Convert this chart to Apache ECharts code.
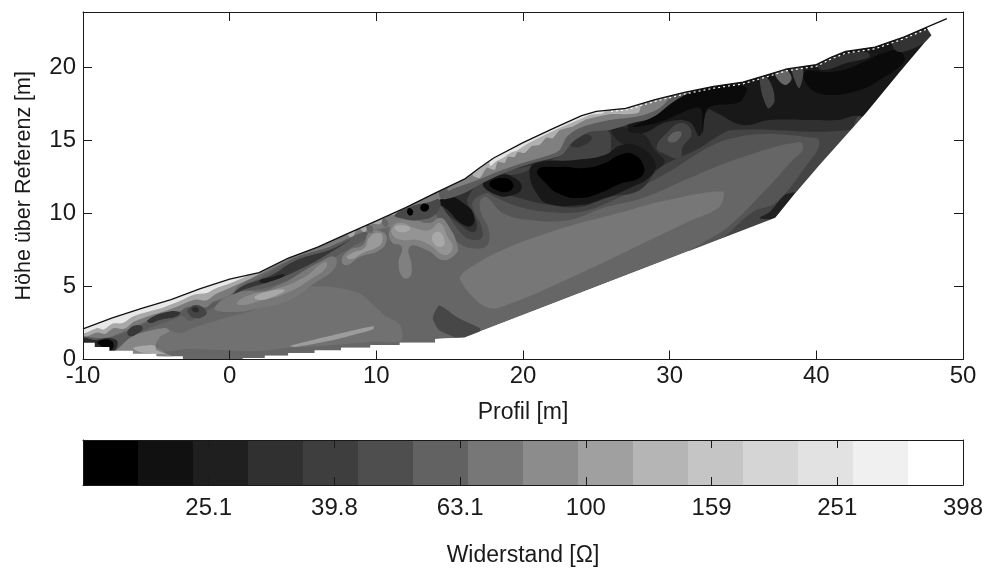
<!DOCTYPE html>
<html><head><meta charset="utf-8"><style>html,body{margin:0;padding:0;background:#fff}#c{width:989px;height:568px}</style>
<script src="https://cdn.jsdelivr.net/npm/echarts@6/dist/echarts.min.js"></script></head><body><div id="c"></div>
<script>
// --- values (x = Profil [m], y = Höhe [m]) ---
const surface=[[-10,2.1],[-8,2.85],[-6,3.5],[-4,4.1],[-2,4.85],[0,5.5],[2,5.95],[4,6.95],[6,7.7],[8,8.6],[10,9.5],[12,10.4],[14,11.4],[16,12.35],[17,13.1],[18,13.8],[20,14.85],[22,15.8],[24,16.7],[25,17],[27,17.2],[29,17.8],[31,18.3],[33,18.7],[35,19],[37,19.6],[38,19.9],[40,20.2],[41,20.7],[42,21.1],[44,21.4],[46,22.1],[47.5,22.75],[48.9,23.35]];
const whiteDash=[[26,17],[27,17.08],[29,17.68],[31,18.18],[33,18.58],[35,18.88],[37,19.48],[38,19.78],[40,20.08],[41,20.58],[42,20.98],[44,21.28],[46,21.98],[47.5,22.62]];
const bottomEdge=[[-10,1.15],[-9.2,1.15],[-9.2,.85],[-8.2,.85],[-8.2,.6],[-6.6,.6],[-6.6,.4],[-5,.4],[-5,.2],[-3.2,.2],[-3.2,0],[.9,0],[.9,.1],[2.4,.1],[2.4,.25],[4,.25],[4,.45],[5.8,.45],[5.8,.62],[7.6,.62],[7.6,.8],[9.6,.8],[9.6,1],[11.6,1],[11.6,1.15],[14,1.15],[14,1.4],[16,1.5],[37.2,9.7],[38.4,11.2],[40.2,13.3],[41.8,15.1],[43.4,16.9],[45.7,19.7],[47.3,21.6],[47.85,22.2],[47.5,22.75]];
const plateauRight=[[15.7,5.5],[16.1,6.1],[18.6,7.5],[22.7,9],[26.8,10.1],[29.3,10.8],[33.6,11.5],[33.4,10.45],[31.4,9.5],[28.7,8.2],[23.7,5.8],[18.2,3.5],[17.05,3.85]];
const plateauLeft=[[-4.9,1.47],[-4.2,2],[-3.4,1.8],[-2.4,2.2],[-.3,2.85],[1.7,3.4],[4.1,4.6],[5.3,5],[7.5,4.9],[8.9,4.5],[9.9,3.65],[10.6,3],[11.6,2.4],[11.7,1.3],[9.6,1.2],[6,.9],[4.1,.8],[1.9,.58],[-.7,.65],[-2.9,.72],[-4.75,.58]];
const paleStreak=[[4.1,.92],[6.2,1.47],[9.8,2.3],[9.8,2.08],[6.9,1.3],[4.5,.85]];
const lowerPatch=[[14.3,3.7],[13.85,2.85],[14.3,2],[15.9,1.4],[17.05,1.9],[17.05,2.15],[15.5,2.9]];
const cornerLight=[[-8.6,.65],[-7.1,1.47],[-5.8,1.88],[-4.4,2.16],[-4.1,1.95],[-4.75,1.54],[-5,.86],[-3.7,.1],[-5.4,.3],[-7.5,.5]];
const cornerLightIn=[[-6.6,.8],[-5.4,1],[-5.1,.93],[-5,.65],[-4.4,.38],[-6.1,.5]];
const contour1=[[13.77,11.6],[14.32,9.42],[15.55,8.05],[16.36,7.64],[17.52,7.77],[17.66,8.87],[17.11,10.1],[17.11,10.93],[17.52,11.13],[18.61,10.04],[20.45,9.56],[23.18,9.56],[25.43,10.38],[28.16,11.06],[31.36,12.43],[34.77,13.8],[38.86,14.9],[39.07,14.35],[38.39,13.67],[36.34,11.4],[33.89,9],[32.25,7.98],[31.36,7.36],[37.5,6.8],[49.8,17.8],[49.8,23.67],[13.77,23.67]];
const contour2=[[13.77,11.6],[14.8,10.04],[15.89,8.53],[16.57,8.19],[17.18,8.32],[17.18,9.08],[16.7,10.1],[16.57,10.79],[17.52,11.4],[18.07,11.13],[19.77,10.45],[21.82,10.1],[23.86,10.1],[25.9,10.79],[29.32,12.5],[34.3,15.17],[40.02,15.17],[40.16,14.56],[39.34,13.32],[37.3,10.79],[35.66,10.1],[33.89,8.53],[33.07,7.84],[37.5,6.8],[49.8,16.4],[49.8,23.67],[13.77,23.67]];
const contour3=[[14.52,10.72],[16.02,9],[16.7,8.73],[16.84,9.35],[16.36,10.38],[16.23,11.06],[17.18,12.09],[18.2,11.6],[19.77,11.06],[21.82,10.58],[23.86,10.45],[25.9,11.13],[27.95,11.6],[29.32,13.12],[32.05,14.49],[33.2,15.24],[34.3,15.72],[42.27,15.72],[42.95,16.68],[45.68,15.72],[49.8,20.5],[49.8,23.67],[14.52,23.67]];
const massInner=[[13.9,11],[14.8,10.3],[15.82,9.3],[16.55,9.2],[16.6,10.04],[15.95,10.7],[15.2,11.2],[14.66,11.5]];
const ringMain=[[20.45,12.84],[20.93,13.46],[23.52,13.67],[25.57,14.01],[26.73,14.69],[27.95,14.56],[28.98,13.53],[28.77,12.64],[27.27,11.75],[25.23,10.93],[23.86,10.58],[21.82,10.65],[21,11.27]];
const coreMain=[[21,12.98],[22.5,13.19],[24.2,13.12],[25.57,13.46],[26.59,14.01],[27.48,14.08],[28.23,13.25],[28.02,12.5],[26.59,12.02],[25.23,11.4],[23.86,11.06],[22.5,11.34],[21.61,12.02]];
const ringSpot=[[17.25,12.09],[18.41,12.64],[19.43,12.43],[19.91,11.75],[19.3,11.27],[18.2,11.27]];
const coreSpot=[[17.73,12.09],[18.61,12.43],[19.3,12.09],[19.09,11.54],[18.2,11.6]];
const upperPlate=[[18.75,12.84],[20.66,13.32],[22.64,14.01],[23.39,14.9],[24.55,15.58],[25.77,15.72],[25.98,14.35],[25.57,13.87],[23.52,13.53],[20.93,13.32],[20.11,12.84],[19.09,12.64]];
const plateSpot=[[23.18,14.9],[23.86,15.38],[24.68,15.24],[24.2,14.69],[23.39,14.56]];
const darkStripe=[[26.05,15.72],[27.27,15.86],[28.3,15.38],[28.98,14.35],[29.66,13.53],[28.64,12.98],[27.95,14.35],[26.59,14.9]];
const blobUpper=[[29.11,14.56],[29.8,15.52],[30.82,16.2],[31.5,15.52],[30.89,14.56],[30.68,13.8],[29.52,14.14]];
const blobUpperIn=[[29.86,15.04],[30.34,15.58],[30.82,15.52],[30.34,14.9]];
const topDark=[[27.14,15.86],[28.16,15.52],[29.8,16.27],[31.36,16.27],[32.05,15.31],[32.59,17.09],[33.2,16.89],[34.98,16.06],[36.82,16.4],[39.55,16.4],[41.39,16.4],[42.95,16.68],[45.68,15.72],[49.8,17.8],[49.8,23.67],[27.95,23.67]];
const topBlackA=[[27.48,15.93],[29.32,16.27],[32.05,17.23],[32.25,15.52],[32.59,17.23],[34.77,17.64],[35.25,18.6],[34.09,18.8],[31.36,18.26],[30.14,17.57],[29.11,16.75]];
const topBlackB=[[39.2,19.69],[40.91,19.69],[42.27,19.97],[45.34,21.2],[46.02,20.5],[44.32,19.14],[42.95,18.46],[40.91,18.12],[39.55,18.6]];
const stripeA=[[36.14,19.28],[36.68,19.28],[37.16,17.77],[36.68,17.23]];
const stripeB=[[37.77,19.97],[38.32,19.28],[37.84,18.8],[37.16,19.62]];
const stripeC=[[38.39,19.97],[39.07,20.04],[38.86,18.6],[38.52,19.14]];
const topPatch1=[[40.02,20.31],[41.8,20.86],[43.43,21.06],[43.64,20.72],[42.07,20.31],[40.43,19.83]];
const topPatch2=[[45.2,21.68],[47.25,22.57],[48.07,22.23],[47.52,21.75],[45.68,21.06]];
const wedge=[[36.14,9.69],[37.16,9.69],[38.52,11.4],[37.84,11.27],[36.82,10.1]];
const midGrey1=[[14.32,11.13],[15.68,11.27],[17.25,12.09],[18.89,12.84],[20.66,13.46],[22.64,14.01],[23.39,14.9],[24.55,15.58],[25.91,15.72],[27.48,16.2],[29.11,16.61],[30.14,17.43],[31.36,18.12],[31.36,23.67],[13.77,23.67]];
const midGrey2=[[14.86,11.6],[15.34,11.74],[17.25,12.43],[18.2,12.84],[19.98,13.46],[21.82,14.01],[22.5,14.35],[22.98,15.24],[23.86,15.86],[25.91,16.4],[27.95,16.68],[29.32,17.23],[30,18.12],[30,23.67],[14.32,23.67]];
const midGrey3=[[16.57,12.64],[17.05,12.43],[17.52,13.12],[18.07,12.98],[18.27,13.53],[18.75,13.46],[18.95,13.87],[19.43,13.87],[19.64,14.21],[20.11,14.14],[20.59,14.6],[21.14,14.7],[21.61,15.2],[22.02,15.15],[22.5,15.7],[23.39,15.95],[24.34,16.45],[25.91,16.8],[27.95,17],[27.95,23.67],[16.36,23.67]];
const midGrey4=[[17.73,13.3],[18.2,13.6],[18.61,13.8],[19.23,14.2],[19.57,14.3],[20.25,14.75],[21.14,15.2],[22.16,15.7],[23.52,16.3],[24.55,16.75],[25.57,17],[25.57,23.67],[17.39,23.67]];
const leftGrey=[[-10,1.6],[-9.07,1.47],[-8.18,1.54],[-6.82,2.1],[-5.25,2.8],[-3.41,3.3],[-2.93,3.6],[-1.57,3.6],[-1.16,3.95],[0,4.4],[.68,5.1],[2.05,5.79],[4.57,7.02],[6.82,7.71],[8.32,8.4],[9.2,8.73],[10.57,9.01],[12.27,9.56],[14.32,10.93],[15.34,11.74],[15.34,23.67],[-10,23.67]];
const leftPale=[[-10,1.65],[-9,1.85],[-8.5,1.75],[-7.9,2.15],[-7.2,2.1],[-6.5,2.6],[-5.45,3],[-4.43,3.3],[-3.41,3.7],[-2.39,4.1],[-1.57,4.05],[-1,4.45],[0,4.9],[1.36,5.51],[2.73,6.27],[4.77,7.36],[6.82,8.19],[7.84,8.66],[8.32,8.32],[8.73,9.01],[9.2,8.73],[9.68,9.28],[10.23,9.28],[10.77,9.83],[11.59,9.97],[12.27,10.72],[13.64,11.26],[15,12.09],[16.57,12.64],[16.57,23.67],[-10,23.67]];
const leftWhite=[[-10,1.9],[-9,2.15],[-8.6,2.05],[-8,2.45],[-7.3,2.5],[-6.6,2.95],[-5.45,3.3],[-4.43,3.6],[-3.41,4],[-2.39,4.45],[-1.57,4.55],[-1,4.85],[0,5.2],[1.36,5.8],[2.73,6.6],[4.77,7.7],[6.82,8.66],[7.84,9.07],[8.32,8.8],[8.73,9.42],[9.2,9.14],[9.68,9.75],[10.23,9.68],[10.77,10.17],[11.59,10.38],[12.27,11.06],[13.64,11.74],[15,12.5],[15,23.67],[-10,23.67]];
const bandOuter=[[-10,1.55],[-9.07,1.47],[-8.18,1.5],[-6.82,2],[-5.25,2.7],[-3.41,3.2],[-2.93,3.55],[-1.57,3.55],[-1.16,3.85],[0,4.3],[.68,4.9],[2.05,5.6],[4.57,7.02],[6.82,7.71],[8.32,8.4],[9.2,8.73],[9.55,8.46],[8.32,7.71],[6.82,6.82],[5.25,5.99],[2.73,4.97],[.89,4.62],[.14,4.08],[-.55,3.87],[-1.57,3.32],[-2.39,2.77],[-2.73,2.64],[-3.2,2.98],[-3.75,2.77],[-5.45,2.16],[-6.82,1.47],[-7.98,.51],[-8.86,.86],[-10,1.06]];
const cornerDark=[[-10,1.47],[-9.2,1.34],[-8.18,1.47],[-7.64,1.2],[-7.98,.51],[-8.86,.79],[-10,.99]];
const cornerCore=[[-9,1.2],[-8.18,1.34],[-7.91,.99],[-8.18,.58],[-8.66,.86]];
const seg2=[[-6.95,1.95],[-6.34,2.36],[-5.93,2.16],[-6.34,1.75],[-6.82,1.61]];
const seg3=[[-5.59,2.71],[-4.3,3.25],[-3.41,3.25],[-3.55,2.98],[-4.77,2.71],[-5.45,2.5]];
const spotOuter=[[-2.86,3.39],[-2.25,3.73],[-1.57,3.25],[-1.84,2.91],[-2.39,2.84],[-2.73,3.05]];
const spotInner=[[-2.59,3.46],[-2.25,3.6],[-2.11,3.32],[-2.39,3.25]];
const band3=[[.14,4.35],[.89,5.03],[2.73,5.72],[4.57,6.82],[6.82,7.5],[8.18,8.19],[6.82,7.3],[5.11,6.34],[3.07,5.45],[.89,4.76]];
const band3Core=[[2.05,5.45],[2.86,5.65],[3.61,5.86],[3.75,5.72],[2.86,5.38],[2.18,5.24]];
const patchHalo=[[-1.02,3.53],[.48,4.56],[2.73,4.83],[6.14,6.68],[7.16,7.02],[7.16,6.27],[5.8,5.24],[4.09,4.08],[2.05,3.53],[0,3.25]];
const patchMid=[[.48,3.87],[1.36,4.42],[2.93,4.76],[4.98,5.58],[6.48,6.68],[6.61,6.34],[5.66,5.58],[3.89,4.56],[2.25,4.08],[.89,3.73]];
const patchIn=[[1.7,4.28],[2.73,4.69],[3.75,4.76],[2.93,4.28],[2.05,4.08]];
const blobAOut=[[7.64,6.82],[8.18,7.5],[9.07,7.84],[9.55,8.73],[10.43,8.73],[10.7,8.19],[10.23,7.5],[8.86,7.02],[7.98,6.47]];
const blobAIn=[[7.98,7.02],[8.52,7.36],[9.2,7.64],[9.55,8.39],[10.23,8.66],[10.43,8.19],[10.09,7.71],[9.07,7.3],[8.32,6.88]];
const blobBOut=[[10.91,8.87],[11.39,9.42],[12.48,9.56],[13.64,9.35],[14.32,9.69],[14.8,9.35],[15.55,7.71],[15.34,7.16],[14.52,6.82],[13.43,7.5],[12.27,7.71],[12.41,6.34],[12.27,5.65],[11.8,5.65],[11.52,6.61],[11.73,7.71],[11.05,8.05]];
const blobBMid=[[11.11,9.08],[11.73,9.35],[12.61,9.01],[13.64,8.87],[14.32,9.35],[14.86,8.39],[15.2,7.64],[14.66,7.16],[13.64,7.84],[12.82,8.19],[11.73,8.19],[11.11,8.53]];
const blobBIn1=[[11.25,9.08],[12.14,9.15],[12.27,8.87],[11.59,8.73]];
const blobBIn2=[[13.84,8.53],[14.32,8.73],[14.66,7.98],[14.32,7.71],[13.91,7.98]];
const scallopHalo=[[11.25,9.9],[12.27,10.45],[13.64,10.79],[14.32,10.93],[14.11,10.04],[12.95,9.56],[11.59,9.69]];
const blackDotA=[[12.14,10.31],[12.41,10.31],[12.48,9.97],[12.2,9.9]];
const blackDotB=[[13.02,10.51],[13.43,10.65],[13.57,10.31],[13.16,10.16]];
const greyDotA=[[9.34,9.14],[9.68,9.14],[9.75,8.73],[9.48,8.73]];
const greyDotB=[[10.43,9.62],[10.7,9.55],[10.77,9.14],[10.5,9.14]];
const colorbarGreys=['#000000','#111111','#1f1f1f','#303030','#3e3e3e','#4e4e4e','#626262','#777777','#8c8c8c','#a0a0a0','#b5b5b5','#c5c5c5','#d5d5d5','#e2e2e2','#f0f0f0','#ffffff'];
const colorbarTicks=['','25.1','39.8','63.1','100','159','251','398'];

// --- drawing table: outline first, then contour layers back to front ---
const upperMask=surface.concat([[50,23.8],[-10,23.8]]);
const lowerMask=bottomEdge.concat([[47.5,23.1],[49,23.7],[50,23.8],[50,0],[-10,0]]);
const regions=[
 [surface.concat(bottomEdge.slice().reverse()),'#666666',0],
 [plateauLeft,'#717171',.3],[paleStreak,'#9c9c9c',.2],[lowerPatch,'#474747',.2],[cornerLight,'#858585',.3],[cornerLightIn,'#a8a8a8',.3],
 [plateauRight,'#777777',.3],
 [contour1,'#555555',.4],[contour2,'#444444',.4],[contour3,'#303030',.4],
 [upperPlate,'#444444',.4],[plateSpot,'#333333',.5],[darkStripe,'#222222',.4],
 [ringMain,'#181818',.5],[coreMain,'#000000',.5],[ringSpot,'#181818',.5],[coreSpot,'#000000',.5],[massInner,'#121212',.5],
 [blobUpper,'#454545',.5],[blobUpperIn,'#606060',.5],[wedge,'#202020',.3],
 [topDark,'#181818',.4],[leftGrey,'#7a7a7a',.3],[leftPale,'#a8a8a8',.3],[leftWhite,'#e8e8e8',.3],
 [midGrey1,'#5c5c5c',.3],[midGrey2,'#808080',.3],[midGrey3,'#b0b0b0',.2],[midGrey4,'#e4e4e4',.3],
 [topBlackA,'#0a0a0a',.3],[topBlackB,'#0a0a0a',.4],[stripeA,'#444444',.4],[stripeB,'#666666',.4],[stripeC,'#4a4a4a',.4],[topPatch1,'#333333',.4],[topPatch2,'#333333',.4],
 [bandOuter,'#5a5a5a',.3],[cornerDark,'#2a2a2a',.4],[cornerCore,'#050505',.5],[seg2,'#383838',.5],[seg3,'#333333',.5],[spotOuter,'#444444',.5],[spotInner,'#2c2c2c',.5],[band3,'#363636',.4],[band3Core,'#1f1f1f',.4],
 [patchHalo,'#787878',.5],[patchMid,'#8c8c8c',.5],[patchIn,'#a8a8a8',.5],
 [blobAOut,'#808080',.5],[blobAIn,'#9a9a9a',.5],[blobBOut,'#808080',.5],[blobBMid,'#949494',.5],[blobBIn1,'#a8a8a8',.5],[blobBIn2,'#a8a8a8',.5],
 [scallopHalo,'#484848',.5],[blackDotA,'#000000',.6],[blackDotB,'#000000',.6],[greyDotA,'#666666',.6],[greyDotB,'#666666',.6],
 [upperMask,'#ffffff',0],[lowerMask,'#ffffff',0]
];
const font='"Liberation Sans",Arial,sans-serif', ink='#1a1a1a', tickSize=24;
const line={lineStyle:{color:ink,width:1}};
const mainX=(pos,labels)=>({type:'value',gridIndex:0,min:-10,max:50,interval:10,position:pos,z:20,axisLine:{show:true,onZero:false,...line},axisTick:{show:true,inside:true,length:9,...line},splitLine:{show:false},
  axisLabel:{show:labels,color:ink,fontFamily:font,fontSize:tickSize,margin:5,hideOverlap:false},
  name:labels?'Profil [m]':'',nameLocation:'middle',nameGap:42,nameTextStyle:{color:ink,fontFamily:font,fontSize:23}});
const mainY=(pos,labels)=>({type:'value',gridIndex:0,min:0,max:23.8,interval:5,position:pos,z:20,axisLine:{show:true,onZero:false,...line},axisTick:{show:true,inside:true,length:9,...line},splitLine:{show:false},
  axisLabel:{show:labels,color:ink,fontFamily:font,fontSize:tickSize,margin:7,showMaxLabel:false},
  name:labels?'Höhe über Referenz [m]':'',nameLocation:'middle',nameGap:48,nameTextStyle:{color:ink,fontFamily:font,fontSize:21.5}});
const barX=(pos,labels)=>({type:'value',gridIndex:1,min:0,max:7,interval:1,position:pos,z:20,axisLine:{show:true,onZero:false,...line},axisTick:{show:true,inside:true,length:8,...line},splitLine:{show:false},
  axisLabel:{show:labels,color:ink,fontFamily:font,fontSize:tickSize,margin:11,formatter:(v)=>colorbarTicks[Math.round(v)]},
  name:labels?'Widerstand [Ω]':'',nameLocation:'middle',nameGap:59,nameTextStyle:{color:ink,fontFamily:font,fontSize:23}});
const barY=(pos)=>({type:'value',gridIndex:1,min:0,max:1,position:pos,z:20,axisLine:{show:true,onZero:false,...line},axisTick:{show:false},axisLabel:{show:false},splitLine:{show:false}});
const chart=echarts.init(document.getElementById('c'),null,{renderer:'canvas'});
chart.setOption({animation:false,backgroundColor:'#fff',
 grid:[{left:83,right:26,top:12,height:347.5,outerBoundsMode:'none'},{left:83,right:26,top:440,height:45,outerBoundsMode:'none'}],
 xAxis:[mainX('bottom',true),mainX('top',false),barX('bottom',true),barX('top',false)],
 yAxis:[mainY('left',true),mainY('right',false),barY('left'),barY('right')],
 series:[
  {type:'custom',xAxisIndex:0,yAxisIndex:0,clip:true,silent:true,z:2,data:regions.map((r,i)=>[i]),
   renderItem:(p,api)=>{const r=regions[api.value(0)];return {type:'polygon',shape:{points:r[0].map(q=>api.coord(q)),smooth:r[2]},style:{fill:r[1]}};}},
  {type:'line',xAxisIndex:0,yAxisIndex:0,z:3,data:whiteDash,showSymbol:false,lineStyle:{color:'#fff',width:1.2,type:[2,3]}},
  {type:'line',xAxisIndex:0,yAxisIndex:0,z:4,data:surface,showSymbol:false,lineStyle:{color:'#111',width:1.3}},
  {type:'custom',xAxisIndex:2,yAxisIndex:2,silent:true,z:2,data:colorbarGreys.map((c,i)=>[i]),
   renderItem:(p,api)=>{const i=api.value(0),n=colorbarGreys.length,a=api.coord([i*7/n,1]),b=api.coord([(i+1)*7/n,0]);
     return {type:'rect',shape:{x:a[0],y:a[1],width:b[0]-a[0],height:b[1]-a[1]},style:{fill:colorbarGreys[i]}};}}
 ]});
</script></body></html>
